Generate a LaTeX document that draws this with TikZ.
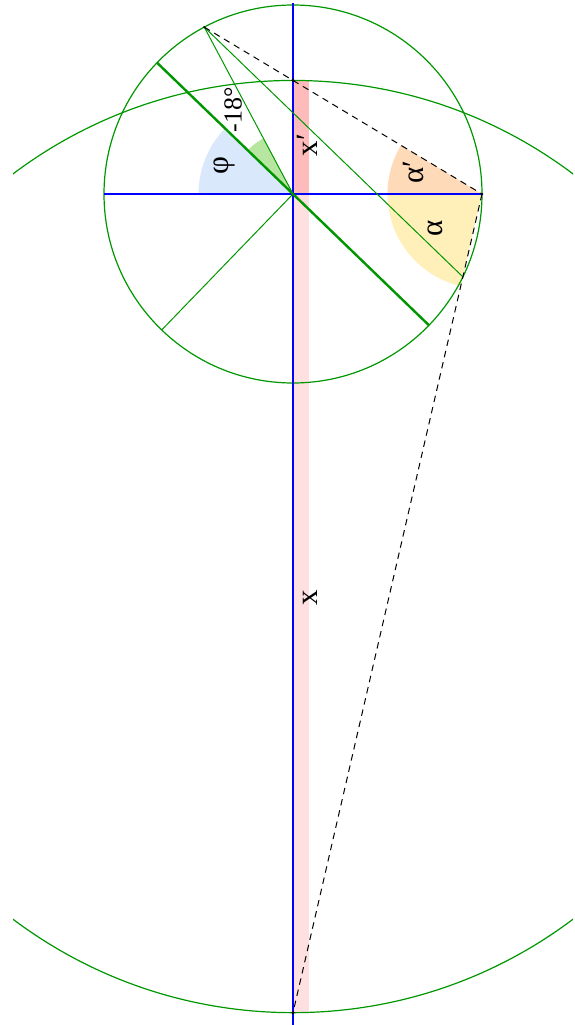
\documentclass[tikz,border=0pt]{standalone}
\usepackage{fontspec}
\usetikzlibrary{calc}
\setmainfont{Liberation Serif}
\definecolor{gr}{RGB}{0,150,0}
\definecolor{phiblue}{RGB}{218,232,252}
\definecolor{greenw}{RGB}{183,230,160}
\definecolor{peach}{RGB}{255,218,185}
\definecolor{yel}{RGB}{255,240,185}
\definecolor{redstrip}{RGB}{255,187,187}
\definecolor{pinkstrip}{RGB}{255,224,224}
\begin{document}
\begin{tikzpicture}[x=1pt,y=1pt,
  thinline/.style={gr,line width=1pt},
  thickline/.style={gr,line width=2.4pt},
  circ/.style={gr,line width=1.2pt},
  axis/.style={blue,line width=1.2pt},
  proj/.style={black,dashed,dash pattern=on 6.5pt off 5pt,line width=1pt},
  lbl/.style={rotate=90,font=\fontsize{31}{34}\selectfont,inner sep=0pt},
  small/.style={rotate=90,font=\fontsize{26}{30}\selectfont,inner sep=0pt},
  dot/.style={circle,fill=black,inner sep=0pt,minimum size=3.5pt}]
\useasboundingbox (0,0) rectangle (574,-1025);
% key points
\coordinate (O) at (293,-194);
\coordinate (P) at ($(O)+(189,0)$);
\coordinate (A) at ($(O)+(118:189)$);
\coordinate (B) at ($(O)+(-26:189)$);
\coordinate (T1) at ($(O)+(136:189)$);
\coordinate (T2) at ($(O)+(316:189)$);
\coordinate (Q) at ($(O)+(226:189)$);
\coordinate (L) at ($(O)+(-189,0)$);
\coordinate (Xp) at (293,-80.44);
\coordinate (X) at (293,-1012.65);
\coordinate (C) at (293,-546.55);
\coordinate (top) at (293,-3);
\coordinate (bot) at (293,-1025);
% strips
\fill[redstrip] (Xp) rectangle (309,-194);
\fill[pinkstrip] (O) rectangle (309,-1012.65);
% wedges
\fill[phiblue] (O) -- ++(136:94.5) arc[start angle=136,end angle=180,radius=94.5] -- cycle;
\fill[greenw] (O) -- ++(118:63) arc[start angle=118,end angle=136,radius=63] -- cycle;
\fill[peach] (P) -- ++(149:94.5) arc[start angle=149,end angle=180,radius=94.5] -- cycle;
\fill[yel] (P) -- ++(180:94.5) arc[start angle=180,end angle=257,radius=94.5] -- cycle;
% big circle (clipped)
\begin{scope}
\clip (13,0) rectangle (573,-1025);
\draw[circ] (C) circle[radius=466.1];
\end{scope}
% small circle
\draw[circ] (O) circle[radius=189];
% axes
\draw[axis] (top) -- (bot);
\draw[axis] (L) -- (P);
% green lines
\draw[thickline] (T1) -- (T2);
\draw[thinline] (O) -- (A);
\draw[thinline] (A) -- (B);
\draw[thinline] (O) -- (Q);
% projection lines
\draw[proj] (A) -- (P);
\draw[proj] (P) -- (X);
% dots
\node[dot,minimum size=2.5pt] (dA) at (A) {};
\node[dot] (dXp) at (Xp) {};
\node[dot] (dX) at (X) {};
\node[dot,minimum size=2.5pt] (dP) at (P) {};
% labels
\node[lbl] (lphi) at (224,-166) {φ};
\node[small] (l18) at (233,-110) {-18°};
\node[lbl] (lxp) at (307,-145) {x′};
\node[lbl] (lap) at (413,-172) {α′};
\node[lbl] (la) at (435,-228) {α};
\node[lbl] (lx) at (310,-598) {x};
\end{tikzpicture}
\end{document}
